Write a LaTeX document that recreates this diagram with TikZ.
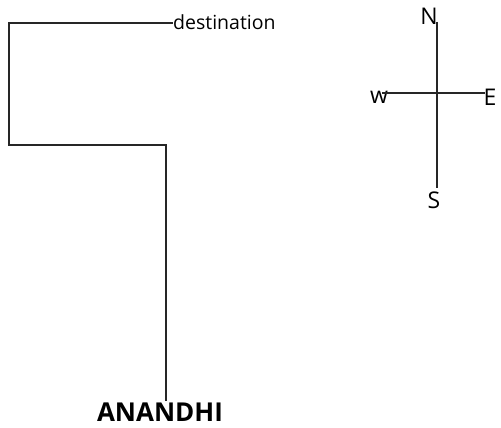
\documentclass[tikz,border=0pt]{standalone}
\usepackage{fontspec}
\setmainfont{Open Sans}
\begin{document}
\begin{tikzpicture}[x=1pt,y=-1pt,
  line/.style={line width=1.3pt,black!85},
  lbl/.style={inner sep=0pt,font=\fontsize{23}{25}\selectfont}]
\useasboundingbox (0,0) rectangle (501,428);
% route
\node[inner sep=0pt,anchor=west,font=\fontsize{19.5}{22}\selectfont] (dest) at (173,22) {destination};
\node[inner sep=0pt,font=\bfseries\fontsize{26}{28}\selectfont] (anandhi) at (160,412) {ANANDHI};
\coordinate (c1) at (166,145);
\coordinate (c2) at (9,145);
\coordinate (c3) at (9,23);
\draw[line] (166,401) -- (c1) -- (c2) -- (c3) -- (dest.west |- c3);
% compass
\node[lbl] (N) at (429,16) {N};
\node[lbl] (S) at (434,200) {S};
\node[lbl] (W) at (379,97) {w};
\node[lbl] (E) at (490,97) {E};
\coordinate (nt) at (437,22);
\coordinate (sb) at (437,188);
\coordinate (wl) at (382,93);
\coordinate (er) at (485,93);
\draw[line] (nt) -- (sb);
\draw[line] (wl) -- (er);
\end{tikzpicture}
\end{document}
